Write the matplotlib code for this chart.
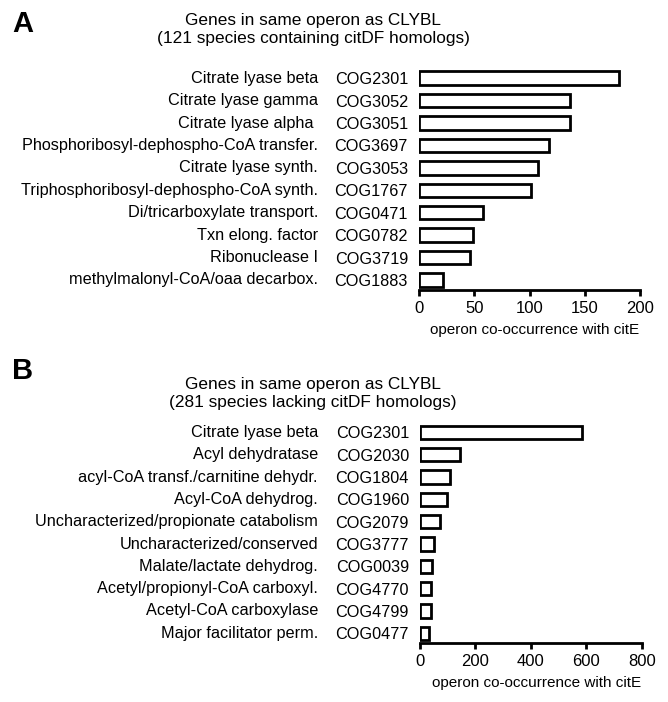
import matplotlib
matplotlib.use('Agg')
import matplotlib.pyplot as plt
from matplotlib.transforms import blended_transform_factory

plt.rcParams['font.family'] = ['Liberation Sans', 'DejaVu Sans']

# Panel A data
names_a = ['Citrate lyase beta', 'Citrate lyase gamma', 'Citrate lyase alpha ',
           'Phosphoribosyl-dephospho-CoA transfer.', 'Citrate lyase synth.',
           'Triphosphoribosyl-dephospho-CoA synth.', 'Di/tricarboxylate transport.',
           'Txn elong. factor', 'Ribonuclease I', 'methylmalonyl-CoA/oaa decarbox.']
cogs_a = ['COG2301', 'COG3052', 'COG3051', 'COG3697', 'COG3053',
          'COG1767', 'COG0471', 'COG0782', 'COG3719', 'COG1883']
vals_a = [181, 137, 137, 118, 108, 101, 58, 49, 46, 22]
ticks_a = [0, 50, 100, 150, 200]

# Panel B data
names_b = ['Citrate lyase beta', 'Acyl dehydratase', 'acyl-CoA transf./carnitine dehydr.',
           'Acyl-CoA dehydrog.', 'Uncharacterized/propionate catabolism',
           'Uncharacterized/conserved', 'Malate/lactate dehydrog.',
           'Acetyl/propionyl-CoA carboxyl.', 'Acetyl-CoA carboxylase', 'Major facilitator perm.']
cogs_b = ['COG2301', 'COG2030', 'COG1804', 'COG1960', 'COG2079',
          'COG3777', 'COG0039', 'COG4770', 'COG4799', 'COG0477']
vals_b = [583, 143, 107, 96, 72, 49, 44, 40, 40, 32]
ticks_b = [0, 200, 400, 600, 800]

W, H = 668, 702
fig = plt.figure(figsize=(W / 100, H / 100), dpi=100)


def panel(rect, names, cogs, vals, ticks, title2, letter, ytitle, yletter):
    ax = fig.add_axes(rect)
    y = list(range(len(vals)))
    ax.barh(y, vals, height=0.6, color='white', edgecolor='black', linewidth=2.0)
    ax.set_ylim(9.45, -0.5)
    ax.set_xlim(ticks[0], ticks[-1])
    ax.set_xticks(ticks)
    ax.set_yticks(y)
    ax.set_yticklabels(cogs, fontsize=11.7)
    ax.tick_params(axis='y', length=0, pad=8)
    ax.tick_params(axis='x', length=4.5, width=2.0, pad=3.5, labelsize=12)
    for s in ['top', 'right', 'left']:
        ax.spines[s].set_visible(False)
    ax.spines['bottom'].set_linewidth(2.0)
    ax.set_xlabel('operon co-occurrence with citE', fontsize=11, labelpad=5,
                  x=0.525, ha='center')
    tr = blended_transform_factory(fig.transFigure, ax.transData)
    for yi, nm in zip(y, names):
        ax.text(318 / W, yi, nm, transform=tr, ha='right', va='center', fontsize=11.7)
    fig.text(313 / W, 1 - ytitle / H, 'Genes in same operon as CLYBL',
             ha='center', va='center', fontsize=12.4)
    fig.text(313 / W, 1 - (ytitle + 18) / H, title2,
             ha='center', va='center', fontsize=12.4)
    fig.text(12 / W, 1 - yletter / H, letter, ha='left', va='center',
             fontsize=21, fontweight='bold')
    return ax


panel([419 / W, 1 - 290 / H, 221 / W, 223 / H], names_a, cogs_a, vals_a, ticks_a,
      '(121 species containing citDF homologs)', 'A', 21, 24)
panel([420 / W, 1 - 643.3 / H, 221.7 / W, 222 / H], names_b, cogs_b, vals_b, ticks_b,
      '(281 species lacking citDF homologs)', 'B', 384, 371)

fig.savefig('out.png', dpi=100)
